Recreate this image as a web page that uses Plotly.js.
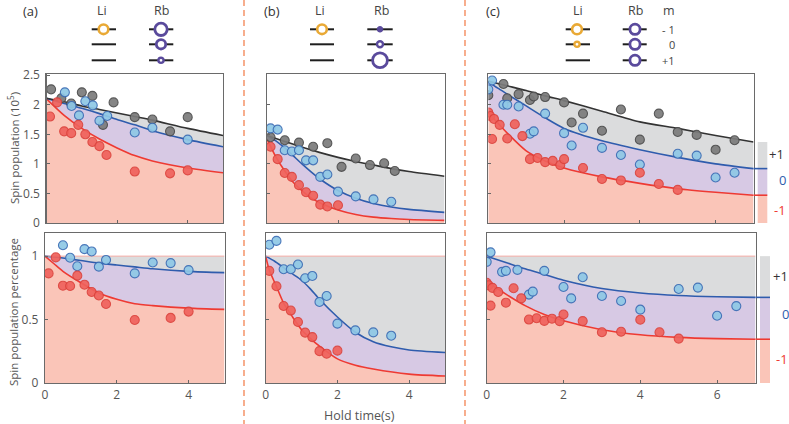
<!DOCTYPE html>
<html><head><meta charset="utf-8">
<script src="https://cdn.plot.ly/plotly-3.0.1.min.js"></script>
<style>html,body{margin:0;padding:0;background:#fff}#chart{width:789px;height:424px}</style>
</head><body><div id="chart"></div>
<script>
// ---------------- DATA ----------------
// Panel (a) top: spin population (1e5)
const aTopGrayT = [0.13,0.42,0.7,1.0,1.3,1.6,1.9,2.5,3.0,3.5,4.0];
const aTopGrayY = [2.26,2.11,2.02,2.21,2.15,1.66,2.04,1.79,1.75,1.55,1.79];
const aTopBlueT = [0.52,0.71,0.92,1.1,1.31,1.5,1.72,2.5,3.0,4.0];
const aTopBlueY = [2.21,1.98,1.82,2.06,1.99,1.73,1.81,1.53,1.61,1.41];
const aTopRedT  = [0.1,0.3,0.5,0.7,0.9,1.1,1.3,1.5,1.7,2.5,3.5,4.0];
const aTopRedY  = [1.80,2.04,1.55,1.52,1.66,1.50,1.37,1.30,1.15,0.87,0.84,0.89];
const aTopFitT  = [0,0.5,1,1.5,2,2.5,3,4,5];
const aTopFitBlack = [2.11,2.05,1.98,1.92,1.86,1.80,1.74,1.60,1.48];
const aTopFitBlue  = [2.11,2.02,1.94,1.85,1.75,1.66,1.56,1.41,1.29];
const aTopFitRed   = [2.10,1.82,1.60,1.42,1.27,1.14,1.05,0.93,0.85];
// Panel (a) bottom: percentage
const aBotBlueT = [0.5,0.7,0.9,1.1,1.3,1.5,1.7,2.5,3.0,3.5,4.0];
const aBotBlueY = [1.086,0.987,0.92,1.055,1.037,0.917,0.97,0.864,0.95,0.945,0.89];
const aBotRedT  = [0.1,0.3,0.5,0.7,0.9,1.1,1.3,1.5,1.7,2.5,3.5,4.0];
const aBotRedY  = [0.864,0.99,0.767,0.765,0.846,0.775,0.717,0.69,0.623,0.497,0.513,0.563];
const aBotFitT  = [0,0.25,0.5,1,1.5,2,2.5,3,4,5];
const aBotFitBlue = [1.0,0.993,0.985,0.965,0.945,0.93,0.915,0.90,0.88,0.87];
const aBotFitRed  = [1.0,0.94,0.88,0.79,0.71,0.66,0.625,0.61,0.59,0.58];
// Panel (b) top
const bTopGrayT = [0.1,0.5,0.9,1.3,1.7,2.1,2.5,2.9,3.3,3.6];
const bTopGrayY = [1.45,1.40,1.36,1.29,1.35,0.95,1.09,0.98,1.01,0.88];
const bTopBlueT = [0.1,0.3,0.5,0.7,0.9,1.1,1.3,1.5,1.7,2.0,2.5,3.0,3.5];
const bTopBlueY = [1.60,1.58,1.23,1.21,1.23,1.06,1.06,0.78,0.82,0.53,0.45,0.40,0.36];
const bTopRedT  = [0.1,0.3,0.5,0.7,0.9,1.1,1.3,1.5,1.7,2.0];
const bTopRedY  = [1.29,1.08,0.845,0.78,0.64,0.52,0.46,0.31,0.28,0.30];
const bTopFitBlackT = [0,0.5,1,1.5,2,2.5,3,3.5,4,5];
const bTopFitBlack  = [1.48,1.38,1.28,1.19,1.11,1.04,0.98,0.92,0.87,0.79];
const bTopFitT   = [0,0.25,0.5,0.75,1,1.25,1.5,2,2.5,3,3.5,4,5];
const bTopFitBlue = [1.48,1.39,1.27,1.13,0.99,0.86,0.74,0.55,0.42,0.33,0.27,0.23,0.18];
const bTopFitRed  = [1.42,1.12,0.88,0.68,0.54,0.42,0.34,0.22,0.145,0.10,0.075,0.06,0.045];
// Panel (b) bottom
const bBotBlueT = [0.1,0.3,0.5,0.7,0.9,1.1,1.3,1.5,1.7,2.0,2.5,3.0,3.5];
const bBotBlueY = [1.09,1.12,0.897,0.897,0.934,0.826,0.844,0.639,0.686,0.468,0.415,0.399,0.373];
const bBotRedT  = [0.1,0.3,0.5,0.7,0.9,1.1,1.3,1.5,1.7,2.0];
const bBotRedY  = [0.884,0.763,0.607,0.571,0.481,0.397,0.362,0.251,0.231,0.255];
const bBotFitBlueT = [0,0.25,0.5,0.75,1,1.25,1.5,2,2.5,3,3.5,4,5];
const bBotFitBlue  = [1.0,0.96,0.91,0.86,0.81,0.74,0.66,0.52,0.40,0.325,0.285,0.26,0.24];
const bBotFitRedT  = [0,0.1,0.3,0.5,0.75,1,1.25,1.5,2,2.5,3,4,5];
const bBotFitRed   = [1.0,0.89,0.76,0.63,0.52,0.42,0.35,0.29,0.19,0.14,0.11,0.07,0.055];
// Panel (c) top
const cTopGrayT = [0,0.4,0.5,0.8,1.1,1.2,1.5,2.0,2.2,2.5,3.0,3.5,4.0,4.5,5.0,5.5,6.0,6.5];
const cTopGrayY = [2.16,2.35,2.11,2.18,2.08,2.14,2.13,2.04,1.70,1.85,1.56,1.92,1.41,1.85,1.54,1.49,1.24,1.40];
const cTopBlueT = [0,0.1,0.4,0.5,0.8,1.1,1.2,1.5,2.0,2.2,2.5,3.0,3.5,4.0,5.0,5.5,6.0,6.5];
const cTopBlueY = [2.26,2.41,2.0,2.0,1.97,1.51,1.55,1.85,1.52,1.31,1.61,1.27,1.15,0.99,1.17,1.14,0.77,0.85];
const cTopRedT  = [0,0.05,0.1,0.15,0.3,0.5,0.7,0.9,1.1,1.3,1.5,1.7,1.9,2.0,2.5,3.0,3.5,4.0,4.5,5.0];
const cTopRedY  = [1.87,1.81,1.42,1.76,1.66,1.43,1.67,1.47,1.08,1.10,1.03,1.05,0.98,1.08,0.93,0.745,0.72,0.85,0.66,0.56];
const cTopFitT  = [0,0.25,0.5,1,1.5,2,3,4,5,6,7];
const cTopFitBlack = [2.40,2.36,2.32,2.24,2.15,2.07,1.89,1.71,1.60,1.48,1.37];
const cTopFitBlue  = [2.39,2.28,2.18,1.98,1.78,1.60,1.39,1.24,1.11,1.00,0.92];
const cTopFitRed   = [1.87,1.69,1.52,1.22,1.05,0.93,0.78,0.67,0.58,0.52,0.47];
// Panel (c) bottom
const cBotBlueT = [0,0.1,0.4,0.5,0.8,1.1,1.2,1.5,2.0,2.2,2.5,3.0,3.5,4.0,5.0,5.5,6.0,6.5];
const cBotBlueY = [0.955,1.03,0.876,0.884,0.892,0.697,0.72,0.884,0.757,0.667,0.834,0.686,0.646,0.578,0.741,0.752,0.53,0.606];
const cBotRedT  = [0,0.05,0.1,0.15,0.3,0.5,0.7,0.9,1.1,1.3,1.5,1.7,1.9,2.0,2.5,3.0,3.5,4.0,4.5,5.0];
const cBotRedY  = [0.79,0.77,0.61,0.75,0.717,0.633,0.747,0.667,0.50,0.51,0.49,0.507,0.488,0.54,0.488,0.40,0.404,0.499,0.40,0.35];
const cBotFitT  = [0,0.5,1,1.5,2,3,4,5,6,7];
const cBotFitBlue = [1.0,0.95,0.90,0.855,0.81,0.745,0.71,0.69,0.68,0.675];
const cBotFitRed  = [0.80,0.70,0.61,0.54,0.49,0.42,0.38,0.36,0.35,0.345];

const topYTicks = [0,0.5,1,1.5,2,2.5];
const botYTicks = [0,0.5,1];
const xTicksAB = [0,2,4];
const xTicksC = [0,2,4,6];
const panelLabels = ['(a)','(b)','(c)'];
const mLabels = ['- 1','0','+1'];
const barLabels = ['+1','0','-1'];

// ---------------- STYLE ----------------
const W = 789, H = 424;
const X = p => p / W, Y = p => 1 - p / H;
const C = {
  salmon:'rgb(250,197,184)', purple:'rgb(215,201,228)', gray:'rgb(219,220,221)',
  black:'#333333', blue:'#2f5cad', red:'#ee3a33',
  mGray:'#7b7b7b', mGrayL:'#4a4a4a', mBlue:'#8fc8e6', mBlueL:'#3b6db5', mRed:'#f0625c', mRedL:'#dc433d',
  li:'#e9a935', rb:'#5a4a9c', dash:'#f59a72', text:'#555'
};
const FONT = 'Open Sans, Noto Sans, sans-serif';

const traces = [];
function fitLine(t, y, xa, ya, color, fill, fillcolor) {
  traces.push({x:t, y:y, xaxis:xa, yaxis:ya, type:'scatter', mode:'lines',
    line:{color:color, width:1.6, shape:'spline', smoothing:0.7},
    fill:fill, fillcolor:fillcolor, hoverinfo:'skip', showlegend:false});
}
function pts(t, y, xa, ya, fc, lc) {
  traces.push({x:t, y:y, xaxis:xa, yaxis:ya, type:'scatter', mode:'markers',
    marker:{size:9, color:fc, opacity:0.92, line:{color:lc, width:1.1}},
    hoverinfo:'skip', showlegend:false});
}
function topPanel(xa, ya, ft, fRed, fBlue, fBlackT, fBlack, g, b, r) {
  fitLine(ft, fRed, xa, ya, C.red, 'tozeroy', C.salmon);
  fitLine(ft, fBlue, xa, ya, C.blue, 'tonexty', C.purple);
  fitLine(fBlackT, fBlack, xa, ya, C.black, 'tonexty', C.gray);
  pts(g[0], g[1], xa, ya, C.mGray, C.mGrayL);
  pts(b[0], b[1], xa, ya, C.mBlue, C.mBlueL);
  pts(r[0], r[1], xa, ya, C.mRed, C.mRedL);
}
function botPanel(xa, ya, ftR, fRed, ftB, fBlue, xmax, b, r) {
  fitLine(ftR, fRed, xa, ya, C.red, 'tozeroy', C.salmon);
  fitLine(ftB, fBlue, xa, ya, C.blue, 'tonexty', C.purple);
  traces.push({x:[0, xmax], y:[1, 1], xaxis:xa, yaxis:ya, type:'scatter', mode:'lines',
    line:{color:'#f3a9a3', width:1}, fill:'tonexty', fillcolor:C.gray, hoverinfo:'skip', showlegend:false});
  pts(b[0], b[1], xa, ya, C.mBlue, C.mBlueL);
  pts(r[0], r[1], xa, ya, C.mRed, C.mRedL);
}

topPanel('x','y', aTopFitT, aTopFitRed, aTopFitBlue, aTopFitT, aTopFitBlack,
  [aTopGrayT,aTopGrayY],[aTopBlueT,aTopBlueY],[aTopRedT,aTopRedY]);
botPanel('x2','y2', aBotFitT, aBotFitRed, aBotFitT, aBotFitBlue, 5,
  [aBotBlueT,aBotBlueY],[aBotRedT,aBotRedY]);
topPanel('x3','y3', bTopFitT, bTopFitRed, bTopFitBlue, bTopFitBlackT, bTopFitBlack,
  [bTopGrayT,bTopGrayY],[bTopBlueT,bTopBlueY],[bTopRedT,bTopRedY]);
botPanel('x4','y4', bBotFitRedT, bBotFitRed, bBotFitBlueT, bBotFitBlue, 5,
  [bBotBlueT,bBotBlueY],[bBotRedT,bBotRedY]);
topPanel('x5','y5', cTopFitT, cTopFitRed, cTopFitBlue, cTopFitT, cTopFitBlack,
  [cTopGrayT,cTopGrayY],[cTopBlueT,cTopBlueY],[cTopRedT,cTopRedY]);
botPanel('x6','y6', cBotFitT, cBotFitRed, cBotFitT, cBotFitBlue, 7,
  [cBotBlueT,cBotBlueY],[cBotRedT,cBotRedY]);

function xax(dom, range, ticks, labels, anchor) {
  return {domain:[X(dom[0]), X(dom[1])], range:range, anchor:anchor, tickmode:'array', tickvals:ticks,
    showticklabels:labels, ticks:'inside', ticklen:3, tickcolor:'#666', showline:true, mirror:true,
    linecolor:'#6a6a6a', linewidth:1.2, showgrid:false, zeroline:false, fixedrange:true,
    tickfont:{family:FONT, size:12, color:C.text}};
}
function yax(dom, range, ticks, labels, anchor, text) {
  return {domain:[Y(dom[1]), Y(dom[0])], range:range, anchor:anchor, tickmode:'array', tickvals:ticks,
    ticktext:text, showticklabels:labels, ticks:'inside', ticklen:3, tickcolor:'#666', showline:true, mirror:true,
    linecolor:'#6a6a6a', linewidth:1.2, showgrid:false, zeroline:false, fixedrange:true,
    ticklabelstandoff:3, tickfont:{family:FONT, size:12, color:C.text}};
}
const TOPY = [74, 223], BOTY = [233.3, 383];
const layout = {
  width:W, height:H, margin:{l:0,r:0,t:0,b:0}, paper_bgcolor:'#fff', plot_bgcolor:'#fff',
  showlegend:false, font:{family:FONT, color:C.text},
  xaxis:  xax([46.5,223], [0,5], xTicksAB, false, 'y'),
  yaxis:  yax(TOPY, [0,2.52], topYTicks, true, 'x', ['0','0.5','1','1.5','2','2.5']),
  xaxis2: xax([45,224.5], [0,5], xTicksAB, true, 'y2'),
  yaxis2: yax(BOTY, [0,1.18], botYTicks, true, 'x2', ['0','0.5','1']),
  xaxis3: xax([267,444.5], [0,5], xTicksAB, false, 'y3'),
  yaxis3: yax(TOPY, [0,2.52], [0.5,1,1.5,2], false, 'x3'),
  xaxis4: xax([265.7,445], [0,5], xTicksAB, true, 'y4'),
  yaxis4: yax(BOTY, [0,1.18], [0.5], false, 'x4'),
  xaxis5: xax([488.3,753.5], [0,7], xTicksC, false, 'y5'),
  yaxis5: yax(TOPY, [0,2.52], [0.5,1,1.5,2], false, 'x5'),
  xaxis6: xax([486.7,755.5], [0,7], xTicksC, true, 'y6'),
  yaxis6: yax(BOTY, [0,1.18], [0.5], false, 'x6'),
  shapes:[], annotations:[]
};
const S = layout.shapes, A = layout.annotations;

// dashed separators
[244, 465].forEach(x => S.push({type:'line', xref:'paper', yref:'paper', x0:X(x), x1:X(x), y0:Y(0), y1:Y(424),
  line:{color:C.dash, width:1.6, dash:'6px,4px'}}));

// right-side m legends (stacked colour bars, boundaries from fit end values)
function bar(yref, x0, x1, lineX0, red, blue, top) {
  S.push({type:'rect', xref:'paper', yref:yref, x0:X(x0), x1:X(x1), y0:0, y1:red, fillcolor:C.salmon, line:{width:0}});
  S.push({type:'rect', xref:'paper', yref:yref, x0:X(x0), x1:X(x1), y0:red, y1:blue, fillcolor:C.purple, line:{width:0}});
  S.push({type:'rect', xref:'paper', yref:yref, x0:X(x0), x1:X(x1), y0:blue, y1:top, fillcolor:C.gray, line:{width:0}});
  S.push({type:'line', xref:'paper', yref:yref, x0:X(lineX0), x1:X(x1), y0:blue, y1:blue, line:{color:C.blue, width:1.6}});
  S.push({type:'line', xref:'paper', yref:yref, x0:X(lineX0), x1:X(x1), y0:red, y1:red, line:{color:C.red, width:1.6}});
}
bar('y5', 757.7, 767.3, 753.5, cTopFitRed[cTopFitRed.length-1], cTopFitBlue[cTopFitBlue.length-1], cTopFitBlack[cTopFitBlack.length-1]);
bar('y6', 760, 770, 755.5, cBotFitRed[cBotFitRed.length-1], cBotFitBlue[cBotFitBlue.length-1], 1);
function txt(x, y, s, color, size, anchor) {
  A.push({xref:'paper', yref:'paper', x:X(x), y:Y(y), text:s, showarrow:false, xanchor:anchor||'center', yanchor:'middle',
    font:{family:FONT, size:size||12, color:color||C.text}});
}
[[776.7,154],[782.7,180],[780,210]].forEach((p,i)=>txt(p[0],p[1],barLabels[i],[ '#333', C.blue, C.red][i],13));
[[780.7,275.7],[785,314.3],[781.7,359.3]].forEach((p,i)=>txt(p[0],p[1],barLabels[i],[ '#333', C.blue, C.red][i],13));

// axis titles
A.push({xref:'paper', yref:'paper', x:X(13), y:Y(148), text:'Spin population (10<sup>5</sup>)', textangle:-90,
  showarrow:false, xanchor:'center', yanchor:'middle', font:{family:FONT, size:11.5, color:C.text}});
A.push({xref:'paper', yref:'paper', x:X(13), y:Y(312), text:'Spin population percentage', textangle:-90,
  showarrow:false, xanchor:'center', yanchor:'middle', font:{family:FONT, size:11.5, color:C.text}});
txt(359, 415.5, 'Hold time(s)', C.text, 12.5);

// header: panel labels and level diagrams
txt(30, 11, panelLabels[0], '#333', 13); txt(272, 11, panelLabels[1], '#333', 13); txt(493, 11, panelLabels[2], '#333', 13);
txt(102, 11, 'Li', '#444', 12.5); txt(161, 11, 'Rb', '#444', 12.5);
txt(319.5, 11, 'Li', '#444', 12.5); txt(381, 11, 'Rb', '#444', 12.5);
txt(577.5, 11, 'Li', '#444', 12.5); txt(635, 11, 'Rb', '#444', 12.5); txt(669, 11, 'm', '#444', 12.5);
const rows = [29.3, 44.3, 60.3];
rows.forEach((ry,i)=>txt(677, ry, mLabels[i], '#444', 11, 'right'));
function level(x0, x1, y) { S.push({type:'line', xref:'paper', yref:'paper', x0:X(x0), x1:X(x1), y0:Y(y), y1:Y(y), line:{color:'#1e1e1e', width:2}}); }
function ring(cx, cy, r, color, w, fill) {
  S.push({type:'circle', xref:'paper', yref:'paper', x0:X(cx-r), x1:X(cx+r), y0:Y(cy+r), y1:Y(cy-r),
    fillcolor:fill||'#ffffff', line:{color:color, width:w}});
}
// (a)
rows.forEach(ry=>{ level(91.7,116,ry); level(149,173.3,ry); });
ring(103.5, rows[0], 4.8, C.li, 2.6);
ring(161, rows[0], 6.2, C.rb, 2.8); ring(161, rows[1], 4.7, C.rb, 2.8); ring(161, rows[2], 2.6, C.rb, 2.4);
// (b)
rows.forEach(ry=>{ level(310,334,ry); level(367.3,392.7,ry); });
ring(322, rows[0], 4.8, C.li, 2.6);
ring(380, rows[0], 2.8, C.rb, 1, C.rb); ring(380, rows[1], 3.0, C.rb, 2.4); ring(380, rows[2], 7.4, C.rb, 2.8);
// (c)
rows.forEach(ry=>{ level(565.7,590,ry); level(622.7,646.7,ry); });
ring(577, rows[0], 4.9, C.li, 2.6); ring(577, rows[1], 2.6, C.li, 2.4);
rows.forEach(ry=>ring(635, ry, 5.1, C.rb, 2.8));

Plotly.newPlot('chart', traces, layout, {staticPlot:true, displayModeBar:false});
</script></body></html>
